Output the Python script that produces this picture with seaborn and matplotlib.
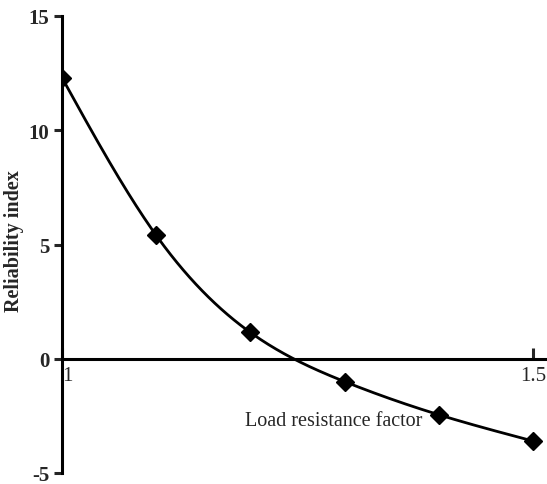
import numpy as np
import pandas as pd
import matplotlib
matplotlib.use('Agg')
import matplotlib.pyplot as plt
import seaborn as sns

# values
load_factor = [1.0, 1.1, 1.2, 1.3, 1.4, 1.5]
reliability = [12.3, 5.4, 1.15, -1.0, -2.45, -3.6]
y_ticks = [-5, 0, 5, 10, 15]
x_ticks = [1, 1.5]
x_tick_labels = ['1', '1.5']


def smooth_curve(x, y, n=300):
    # natural cubic spline, only used to draw the smooth line through the points
    x = np.asarray(x, float)
    y = np.asarray(y, float)
    k = len(x)
    h = np.diff(x)
    A = np.zeros((k, k))
    b = np.zeros(k)
    A[0, 0] = A[-1, -1] = 1
    for i in range(1, k - 1):
        A[i, i - 1] = h[i - 1]
        A[i, i] = 2 * (h[i - 1] + h[i])
        A[i, i + 1] = h[i]
        b[i] = 3 * ((y[i + 1] - y[i]) / h[i] - (y[i] - y[i - 1]) / h[i - 1])
    c = np.linalg.solve(A, b)
    xs = np.linspace(x[0], x[-1], n)
    idx = np.clip(np.searchsorted(x, xs) - 1, 0, k - 2)
    dx = xs - x[idx]
    bb = (y[1:] - y[:-1]) / h - h * (2 * c[:-1] + c[1:]) / 3
    dd = (c[1:] - c[:-1]) / (3 * h)
    ys = y[idx] + bb[idx] * dx + c[idx] * dx ** 2 + dd[idx] * dx ** 3
    return xs, ys


sns.set_style('white')
plt.rcParams['font.family'] = ['Liberation Serif', 'DejaVu Serif']

fig = plt.figure(figsize=(5.47, 4.85), dpi=100)
ax = fig.add_axes([62 / 547, 11 / 485, 485 / 547, 457 / 485])

xs, ys = smooth_curve(load_factor, reliability)
curve = pd.DataFrame({'x': xs, 'y': ys})
sns.lineplot(data=curve, x='x', y='y', color='black', linewidth=2, ax=ax, sort=False)
ax.plot(load_factor, reliability, linestyle='none', marker='D', markersize=9,
        color='black', zorder=3)

ax.set_xlim(1.0, 1.5 + 14 / 942)
ax.set_ylim(-5, 15)

ax.spines['top'].set_visible(False)
ax.spines['right'].set_visible(False)
ax.spines['bottom'].set_position(('data', 0))
for s in ['left', 'bottom']:
    ax.spines[s].set_color('black')
    ax.spines[s].set_linewidth(2.2)

ax.set_yticks(y_ticks)
ax.set_yticklabels([str(v) for v in y_ticks], fontweight='bold', fontsize=15)
ax.set_xticks(x_ticks)
ax.set_xticklabels(x_tick_labels, fontsize=15)
ax.tick_params(axis='y', direction='out', length=6, width=2.2, left=True, pad=3)
ax.tick_params(axis='x', direction='in', length=8, width=2.2, bottom=True, pad=5)
xlabels = ax.get_xticklabels()
xlabels[0].set_horizontalalignment('left')
xlabels[1].set_horizontalalignment('center')

ax.set_xlabel('Load resistance factor', fontsize=14.5)
ax.xaxis.set_label_coords(0.561, 0.135)
ax.set_ylabel('Reliability index', fontsize=14.5, fontweight='bold')
ax.yaxis.set_label_coords(-0.078, 0.51)

fig.savefig('out.png', dpi=100)
